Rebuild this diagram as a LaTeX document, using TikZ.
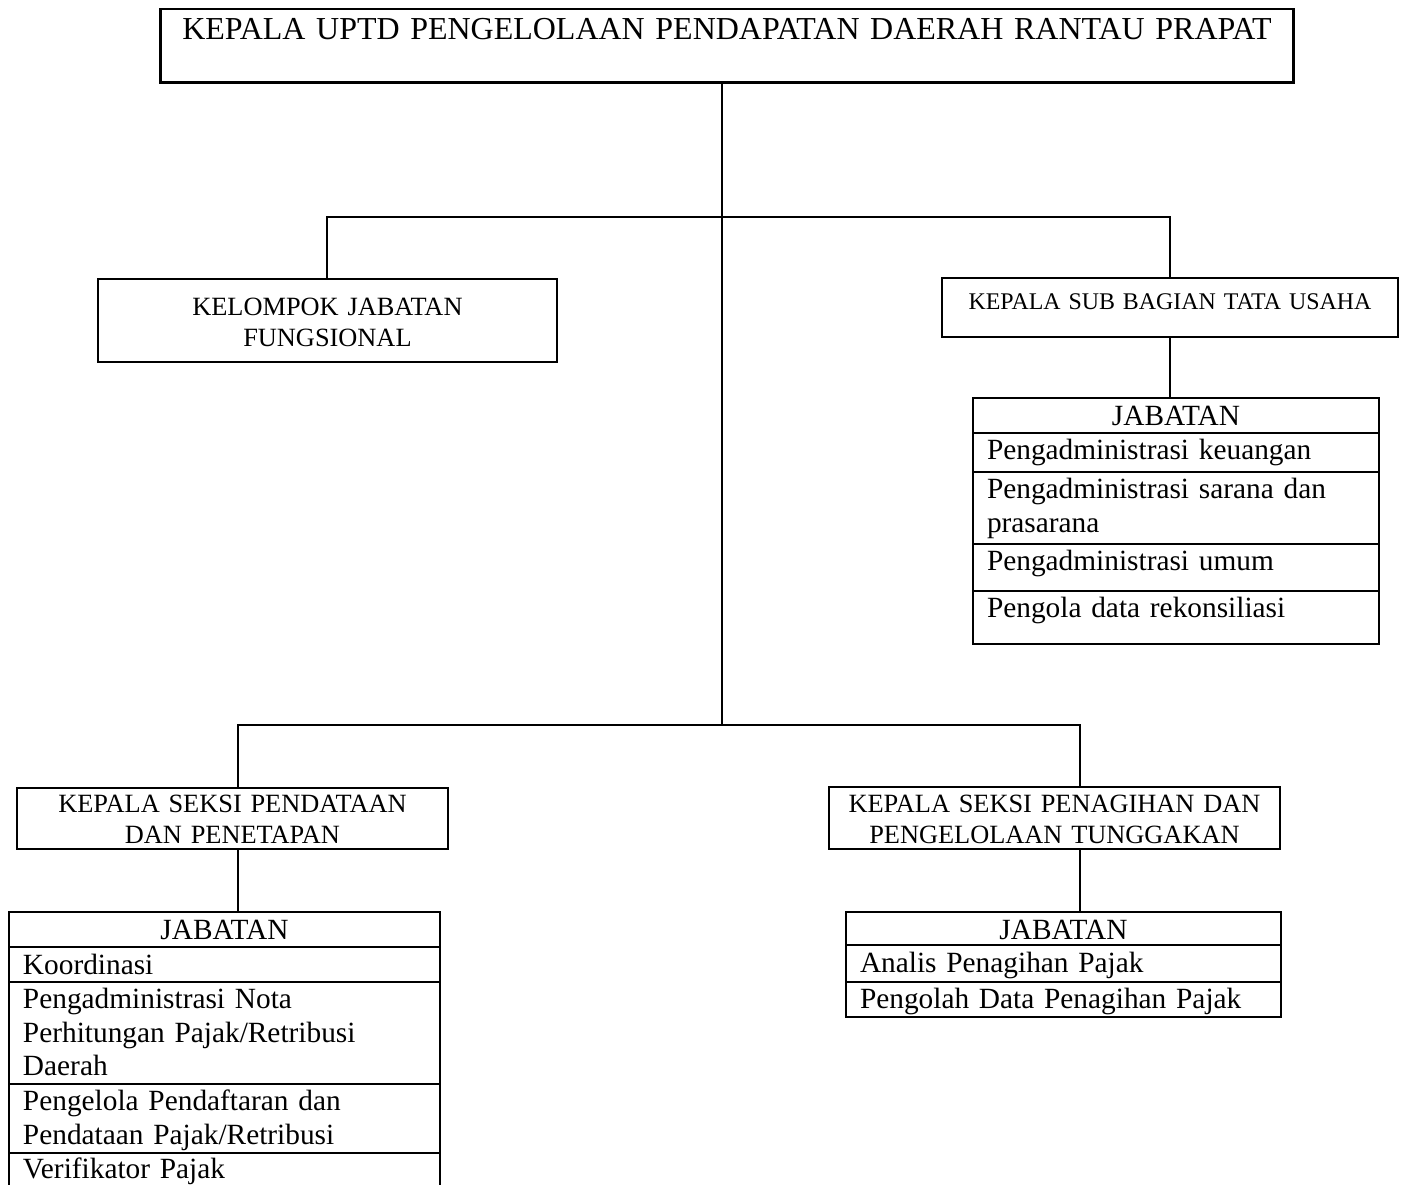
\documentclass[tikz,border=0pt]{standalone}
\usepackage{fontspec}
\setmainfont{Liberation Serif}
\usetikzlibrary{positioning,calc}
\newcommand\fsTitle{\fontsize{18.2}{21}\selectfont}
\newcommand\fsHead{\fontsize{15}{18}\selectfont}
\newcommand\fsSub{\fontsize{13.6}{16}\selectfont}
\newcommand\fsList{\fontsize{16.7}{19}\selectfont}
\tikzset{
  headbox/.style={draw,line width=1.1pt,anchor=north west,inner sep=0pt,
    outer sep=0pt,align=center,font=\fsHead},
  row/.style={draw,line width=1.1pt,inner xsep=0.28cm,inner ysep=0pt,
    outer sep=0pt,align=left,font=\fsList,text height=0.54cm},
  rowhead/.style={row,align=center},
  link/.style={line width=1.1pt}
}

\begin{document}
\begin{tikzpicture}[x=0.02cm,y=-0.02cm]
\useasboundingbox (0,0) rectangle (1406,1184);

\node[draw,line width=1.7pt,anchor=north,inner sep=0pt,outer sep=0pt,
  align=center,font=\fsTitle,text width=22.68cm,text height=0.6cm,
  text depth=0.88cm]
  (kepala) at (727,9) {KEPALA UPTD PENGELOLAAN PENDAPATAN DAERAH RANTAU PRAPAT};

\node[headbox,text width=9.18cm,text height=0.72cm,text depth=0.94cm]
  (fungsional) at (98,279) {KELOMPOK JABATAN\\FUNGSIONAL};
\node[headbox,font=\fsSub,text width=9.12cm,text height=0.62cm,text depth=0.56cm]
  (tatausaha) at (942,278) {KEPALA SUB BAGIAN TATA USAHA};
\node[headbox,text width=8.62cm,text height=0.48cm,text depth=0.74cm]
  (pendataan) at (17,788) {KEPALA SEKSI PENDATAAN\\DAN PENETAPAN};
\node[headbox,text width=9.02cm,text height=0.5cm,text depth=0.74cm]
  (penagihan) at (829,787) {KEPALA SEKSI PENAGIHAN DAN\\PENGELOLAAN TUNGGAKAN};

% jabatan tata usaha
\node[rowhead,anchor=north west,text width=7.56cm,text depth=0.16cm]
  (jabTU0) at (973,398) {JABATAN};
\node[row,below=0pt of jabTU0,text width=7.56cm,text depth=0.24cm]
  (jabTU1) {Pengadministrasi keuangan};
\node[row,below=0pt of jabTU1,text width=7.56cm,text depth=0.9cm]
  (jabTU2) {Pengadministrasi sarana dan\\prasarana};
\node[row,below=0pt of jabTU2,text width=7.56cm,text depth=0.4cm]
  (jabTU3) {Pengadministrasi umum};
\node[row,below=0pt of jabTU3,text width=7.56cm,text depth=0.52cm]
  (jabTU4) {Pengola data rekonsiliasi};

% jabatan pendataan
\node[rowhead,anchor=north west,text width=8.06cm,text depth=0.16cm]
  (jabL0) at (9,912) {JABATAN};
\node[row,below=0pt of jabL0,text width=8.06cm,text depth=0.16cm]
  (jabL1) {Koordinasi};
\node[row,below=0pt of jabL1,text width=8.06cm,text depth=1.5cm]
  (jabL2) {Pengadministrasi Nota\\Perhitungan Pajak/Retribusi\\Daerah};
\node[row,below=0pt of jabL2,text width=8.06cm,text depth=0.84cm]
  (jabL3) {Pengelola Pendaftaran dan\\Pendataan Pajak/Retribusi};
\node[row,below=0pt of jabL3,text width=8.06cm,text height=0.52cm,
  text depth=0.3cm]
  (jabL4) {Verifikator Pajak};

% jabatan penagihan
\node[rowhead,anchor=north west,text width=8.14cm,text depth=0.12cm]
  (jabR0) at (846,912) {JABATAN};
\node[row,below=0pt of jabR0,text width=8.14cm,text depth=0.2cm]
  (jabR1) {Analis Penagihan Pajak};
\node[row,below=0pt of jabR1,text width=8.14cm,text depth=0.16cm]
  (jabR2) {Pengolah Data Penagihan Pajak};

\coordinate (hubTop) at (722,217);
\coordinate (hubBot) at (722,725);
\coordinate (dropL) at (238,725);
\coordinate (dropR) at (1080,725);

\draw[link] (hubTop |- kepala.south) -- (hubBot);
\draw[link] (fungsional.north) |- (hubTop) -| (tatausaha.north);
\draw[link] (tatausaha.south) -- (tatausaha.south |- jabTU0.north);
\draw[link] (dropL |- pendataan.north) |- (dropR) -- (dropR |- penagihan.north);
\draw[link] (dropL |- pendataan.south) -- (dropL |- jabL0.north);
\draw[link] (dropR |- penagihan.south) -- (dropR |- jabR0.north);

\end{tikzpicture}
\end{document}
